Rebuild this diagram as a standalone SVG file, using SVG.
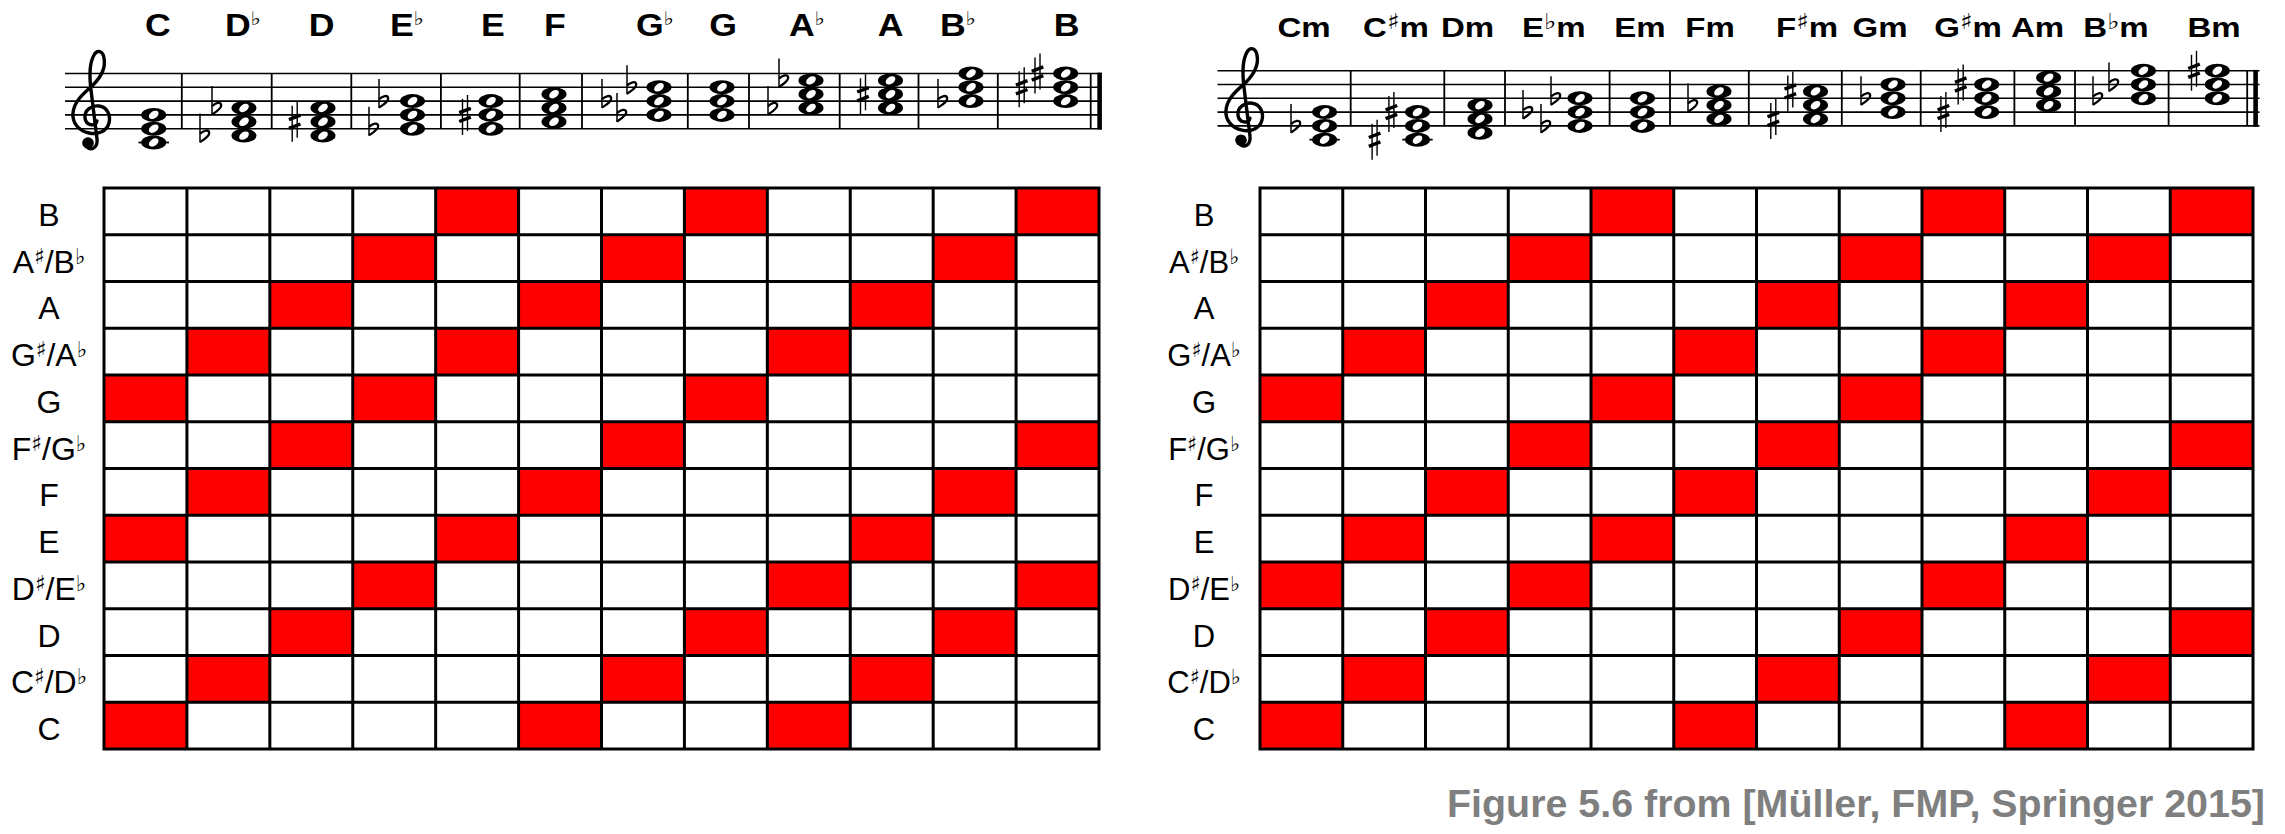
<svg xmlns="http://www.w3.org/2000/svg" width="2285" height="834" viewBox="0 0 2285 834">
<style>
.st{stroke:#000;stroke-width:1.6;fill:none}
.bl{stroke:#000;stroke-width:1.8;fill:none}
.lg{stroke:#000;stroke-width:1.8}
.cl{font-family:'Liberation Sans','DejaVu Sans',sans-serif;font-weight:bold;fill:#000;text-anchor:middle}
.rl{font-family:'Liberation Sans','DejaVu Sans',sans-serif;fill:#000;text-anchor:middle}
.acc{font-family:'DejaVu Sans',sans-serif;font-weight:normal}
.red{fill:#ff0000}
.gl{stroke:#000;stroke-width:3;fill:none;stroke-linecap:square}
.ft{font-family:'Liberation Sans',Arial,sans-serif;font-weight:bold;fill:#7f7f7f;font-size:39.4px}
</style>
<defs>
<g id="wn"><ellipse rx="12.5" ry="7" fill="#000"/><ellipse rx="5.4" ry="3.5" fill="#fff" transform="rotate(-35)"/></g>
<g id="fl" stroke="#000" fill="none"><path d="M0,-22 V7" stroke-width="1.5"/><path d="M0,6.5 C4,4 9.8,0.5 9.2,-3 C8.6,-6.4 3.6,-5.4 0,-1.8" stroke-width="2.3"/></g>
<g id="sh" stroke="#000" fill="none"><path d="M-2.5,-16 V20 M2.5,-20 V16" stroke-width="1.4"/><path d="M-5.8,-2.2 L5.8,-6.6 M-5.8,6.6 L5.8,2.2" stroke-width="3.4"/></g>
<g id="clef"><path d="M97,121 C96,127 86,126 85,118 C84,110 92,105 99,106 C107,107 111,115 109,123 C107,131 98,135 89,133 C79,131 72,123 73,113 C74,101 84,93 93,85 C101,77 106,68 104,58 C103,51 97,49 94,55 C90,62 89,74 91,90 L97,139 C98,148 91,151 87,147" fill="none" stroke="#000" stroke-width="3.4" stroke-linecap="round"/><circle cx="88" cy="143" r="5.8" fill="#000"/></g>
</defs>
<rect width="2285" height="834" fill="#fff"/>

<g id="staff-major">
<path class="st" d="M65,73.5 H1101.7 M65,87.3 H1101.7 M65,101.1 H1101.7 M65,114.9 H1101.7 M65,128.7 H1101.7"/>
<path class="bl" d="M181.8,73.5 V128.7 M271.7,73.5 V128.7 M351.3,73.5 V128.7 M440.9,73.5 V128.7 M519.7,73.5 V128.7 M582,73.5 V128.7 M687.8,73.5 V128.7 M749,73.5 V128.7 M839.7,73.5 V128.7 M918.5,73.5 V128.7 M997.8,73.5 V128.7 M1090.7,73.5 V128.7"/>
<rect x="1097.3" y="72.7" width="4.6" height="56.8" fill="#000"/>
<use href="#clef"/>
<path class="lg" d="M138.5,142.5 H169"/>
<use href="#wn" x="153.7" y="142.5"/><use href="#wn" x="153.7" y="128.7"/><use href="#wn" x="153.7" y="114.9"/>
<use href="#wn" x="244" y="135.6"/><use href="#wn" x="244" y="121.8"/><use href="#wn" x="244" y="108"/>
<use href="#wn" x="323" y="135.6"/><use href="#wn" x="323" y="121.8"/><use href="#wn" x="323" y="108"/>
<use href="#wn" x="412.5" y="128.7"/><use href="#wn" x="412.5" y="114.9"/><use href="#wn" x="412.5" y="101.1"/>
<use href="#wn" x="491" y="128.7"/><use href="#wn" x="491" y="114.9"/><use href="#wn" x="491" y="101.1"/>
<use href="#wn" x="554" y="121.8"/><use href="#wn" x="554" y="108"/><use href="#wn" x="554" y="94.2"/>
<use href="#wn" x="659" y="114.9"/><use href="#wn" x="659" y="101.1"/><use href="#wn" x="659" y="87.3"/>
<use href="#wn" x="722" y="114.9"/><use href="#wn" x="722" y="101.1"/><use href="#wn" x="722" y="87.3"/>
<use href="#wn" x="811" y="108"/><use href="#wn" x="811" y="94.2"/><use href="#wn" x="811" y="80.4"/>
<use href="#wn" x="890.5" y="108"/><use href="#wn" x="890.5" y="94.2"/><use href="#wn" x="890.5" y="80.4"/>
<use href="#wn" x="971" y="101.1"/><use href="#wn" x="971" y="87.3"/><use href="#wn" x="971" y="73.5"/>
<use href="#wn" x="1065.7" y="101.1"/><use href="#wn" x="1065.7" y="87.3"/><use href="#wn" x="1065.7" y="73.5"/>
<use href="#fl" x="200" y="135.6"/><use href="#fl" x="212" y="108"/>
<use href="#sh" x="294.7" y="121.8"/>
<use href="#fl" x="369" y="128.7"/><use href="#fl" x="379" y="101.1"/>
<use href="#sh" x="465" y="114.9"/>
<use href="#fl" x="602" y="101.1"/><use href="#fl" x="617" y="114.9"/><use href="#fl" x="627" y="87.3"/>
<use href="#fl" x="768" y="108"/><use href="#fl" x="779" y="80.4"/>
<use href="#sh" x="863" y="94.2"/>
<use href="#fl" x="938" y="101.1"/>
<use href="#sh" x="1021.7" y="87.3"/><use href="#sh" x="1037.5" y="73.5"/>
</g>

<g id="labels-major" font-size="31">
<text class="cl" transform="translate(157.9,36) scale(1.15,1)">C</text>
<text class="cl" transform="translate(243,36) scale(1.15,1)">D<tspan class="acc" font-size="19" dy="-11">♭</tspan></text>
<text class="cl" transform="translate(321.5,36) scale(1.15,1)">D</text>
<text class="cl" transform="translate(407,36) scale(1.15,1)">E<tspan class="acc" font-size="19" dy="-11">♭</tspan></text>
<text class="cl" transform="translate(493,36) scale(1.15,1)">E</text>
<text class="cl" transform="translate(555,36) scale(1.15,1)">F</text>
<text class="cl" transform="translate(655,36) scale(1.15,1)">G<tspan class="acc" font-size="19" dy="-11">♭</tspan></text>
<text class="cl" transform="translate(723,36) scale(1.15,1)">G</text>
<text class="cl" transform="translate(807,36) scale(1.15,1)">A<tspan class="acc" font-size="19" dy="-11">♭</tspan></text>
<text class="cl" transform="translate(890.6,36) scale(1.15,1)">A</text>
<text class="cl" transform="translate(958,36) scale(1.15,1)">B<tspan class="acc" font-size="19" dy="-11">♭</tspan></text>
<text class="cl" transform="translate(1066.6,36) scale(1.15,1)">B</text>
</g>

<g id="staff-minor">
<path class="st" d="M1217.5,70.7 H2259.5 M1217.5,84.5 H2259.5 M1217.5,98.3 H2259.5 M1217.5,112.1 H2259.5 M1217.5,125.9 H2259.5"/>
<path class="bl" d="M1350.7,70.7 V125.9 M1444.3,70.7 V125.9 M1505,70.7 V125.9 M1609.6,70.7 V125.9 M1670,70.7 V125.9 M1748.8,70.7 V125.9 M1841.8,70.7 V125.9 M1920.7,70.7 V125.9 M2014.4,70.7 V125.9 M2075,70.7 V125.9 M2168.6,70.7 V125.9 M2247.2,70.7 V125.9"/>
<rect x="2253.3" y="69.9" width="4.6" height="56.8" fill="#000"/>
<use href="#clef" transform="translate(1153,-2.8)"/>
<path class="lg" d="M1309.4,139.7 H1339.8 M1402.3,139.7 H1432.7"/>
<use href="#wn" x="1324.6" y="139.7"/><use href="#wn" x="1324.6" y="125.9"/><use href="#wn" x="1324.6" y="112.1"/>
<use href="#wn" x="1417.5" y="139.7"/><use href="#wn" x="1417.5" y="125.9"/><use href="#wn" x="1417.5" y="112.1"/>
<use href="#wn" x="1480" y="132.8"/><use href="#wn" x="1480" y="119"/><use href="#wn" x="1480" y="105.2"/>
<use href="#wn" x="1580" y="125.9"/><use href="#wn" x="1580" y="112.1"/><use href="#wn" x="1580" y="98.3"/>
<use href="#wn" x="1642.5" y="125.9"/><use href="#wn" x="1642.5" y="112.1"/><use href="#wn" x="1642.5" y="98.3"/>
<use href="#wn" x="1719" y="119"/><use href="#wn" x="1719" y="105.2"/><use href="#wn" x="1719" y="91.4"/>
<use href="#wn" x="1815.5" y="119"/><use href="#wn" x="1815.5" y="105.2"/><use href="#wn" x="1815.5" y="91.4"/>
<use href="#wn" x="1893" y="112.1"/><use href="#wn" x="1893" y="98.3"/><use href="#wn" x="1893" y="84.5"/>
<use href="#wn" x="1986.7" y="112.1"/><use href="#wn" x="1986.7" y="98.3"/><use href="#wn" x="1986.7" y="84.5"/>
<use href="#wn" x="2048.6" y="105.2"/><use href="#wn" x="2048.6" y="91.4"/><use href="#wn" x="2048.6" y="77.6"/>
<use href="#wn" x="2143.4" y="98.3"/><use href="#wn" x="2143.4" y="84.5"/><use href="#wn" x="2143.4" y="70.7"/>
<use href="#wn" x="2217.3" y="98.3"/><use href="#wn" x="2217.3" y="84.5"/><use href="#wn" x="2217.3" y="70.7"/>
<use href="#fl" x="1291" y="125.9"/>
<use href="#sh" x="1374.6" y="139.7"/><use href="#sh" x="1391.4" y="112.1"/>
<use href="#fl" x="1523" y="112.1"/><use href="#fl" x="1541" y="125.9"/><use href="#fl" x="1551" y="98.3"/>
<use href="#fl" x="1688" y="105.2"/>
<use href="#sh" x="1773.3" y="119"/><use href="#sh" x="1790.3" y="91.4"/>
<use href="#fl" x="1861" y="98.3"/>
<use href="#sh" x="1943.4" y="112.1"/><use href="#sh" x="1960.7" y="84.5"/>
<use href="#fl" x="2093" y="98.3"/><use href="#fl" x="2109" y="84.5"/>
<use href="#sh" x="2194" y="70.7"/>
</g>

<g id="labels-minor" font-size="28">
<text class="cl" transform="translate(1304,36.7) scale(1.18,1)">Cm</text>
<text class="cl" transform="translate(1396,36.7) scale(1.18,1)">C<tspan class="acc" font-size="22" dy="-8">♯</tspan><tspan dy="8">m</tspan></text>
<text class="cl" transform="translate(1467.5,36.7) scale(1.18,1)">Dm</text>
<text class="cl" transform="translate(1553.7,36.7) scale(1.18,1)">E<tspan class="acc" font-size="22" dy="-8">♭</tspan><tspan dy="8">m</tspan></text>
<text class="cl" transform="translate(1640,36.7) scale(1.18,1)">Em</text>
<text class="cl" transform="translate(1710,36.7) scale(1.18,1)">Fm</text>
<text class="cl" transform="translate(1807,36.7) scale(1.18,1)">F<tspan class="acc" font-size="22" dy="-8">♯</tspan><tspan dy="8">m</tspan></text>
<text class="cl" transform="translate(1880,36.7) scale(1.18,1)">Gm</text>
<text class="cl" transform="translate(1968,36.7) scale(1.18,1)">G<tspan class="acc" font-size="22" dy="-8">♯</tspan><tspan dy="8">m</tspan></text>
<text class="cl" transform="translate(2037.5,36.7) scale(1.18,1)">Am</text>
<text class="cl" transform="translate(2116,36.7) scale(1.18,1)">B<tspan class="acc" font-size="22" dy="-8">♭</tspan><tspan dy="8">m</tspan></text>
<text class="cl" transform="translate(2214,36.7) scale(1.18,1)">Bm</text>
</g>

<g id="grid-major">
<rect x="104" y="188" width="995" height="561" fill="#fff"/>
<g transform="translate(104,188) scale(82.917,46.75)" class="red">
<rect x="0" y="11" width="1" height="1"/><rect x="0" y="7" width="1" height="1"/><rect x="0" y="4" width="1" height="1"/>
<rect x="1" y="10" width="1" height="1"/><rect x="1" y="6" width="1" height="1"/><rect x="1" y="3" width="1" height="1"/>
<rect x="2" y="9" width="1" height="1"/><rect x="2" y="5" width="1" height="1"/><rect x="2" y="2" width="1" height="1"/>
<rect x="3" y="8" width="1" height="1"/><rect x="3" y="4" width="1" height="1"/><rect x="3" y="1" width="1" height="1"/>
<rect x="4" y="7" width="1" height="1"/><rect x="4" y="3" width="1" height="1"/><rect x="4" y="0" width="1" height="1"/>
<rect x="5" y="6" width="1" height="1"/><rect x="5" y="2" width="1" height="1"/><rect x="5" y="11" width="1" height="1"/>
<rect x="6" y="5" width="1" height="1"/><rect x="6" y="1" width="1" height="1"/><rect x="6" y="10" width="1" height="1"/>
<rect x="7" y="4" width="1" height="1"/><rect x="7" y="0" width="1" height="1"/><rect x="7" y="9" width="1" height="1"/>
<rect x="8" y="3" width="1" height="1"/><rect x="8" y="11" width="1" height="1"/><rect x="8" y="8" width="1" height="1"/>
<rect x="9" y="2" width="1" height="1"/><rect x="9" y="10" width="1" height="1"/><rect x="9" y="7" width="1" height="1"/>
<rect x="10" y="1" width="1" height="1"/><rect x="10" y="9" width="1" height="1"/><rect x="10" y="6" width="1" height="1"/>
<rect x="11" y="0" width="1" height="1"/><rect x="11" y="8" width="1" height="1"/><rect x="11" y="5" width="1" height="1"/>
<path class="gl" vector-effect="non-scaling-stroke" d="M0,0H12M0,1H12M0,2H12M0,3H12M0,4H12M0,5H12M0,6H12M0,7H12M0,8H12M0,9H12M0,10H12M0,11H12M0,12H12M0,0V12M1,0V12M2,0V12M3,0V12M4,0V12M5,0V12M6,0V12M7,0V12M8,0V12M9,0V12M10,0V12M11,0V12M12,0V12"/>
</g>
</g>

<g id="rows-major" font-size="32">
<text class="rl" x="49" y="226">B</text>
<text class="rl" x="49" y="272.6">A<tspan class="acc" font-size="22" dy="-9">♯</tspan><tspan dy="9">/B</tspan><tspan class="acc" font-size="22" dy="-9">♭</tspan></text>
<text class="rl" x="49" y="319.4">A</text>
<text class="rl" x="49" y="366.1">G<tspan class="acc" font-size="22" dy="-9">♯</tspan><tspan dy="9">/A</tspan><tspan class="acc" font-size="22" dy="-9">♭</tspan></text>
<text class="rl" x="49" y="412.9">G</text>
<text class="rl" x="49" y="459.6">F<tspan class="acc" font-size="22" dy="-9">♯</tspan><tspan dy="9">/G</tspan><tspan class="acc" font-size="22" dy="-9">♭</tspan></text>
<text class="rl" x="49" y="506.4">F</text>
<text class="rl" x="49" y="553.1">E</text>
<text class="rl" x="49" y="599.9">D<tspan class="acc" font-size="22" dy="-9">♯</tspan><tspan dy="9">/E</tspan><tspan class="acc" font-size="22" dy="-9">♭</tspan></text>
<text class="rl" x="49" y="646.6">D</text>
<text class="rl" x="49" y="693.4">C<tspan class="acc" font-size="22" dy="-9">♯</tspan><tspan dy="9">/D</tspan><tspan class="acc" font-size="22" dy="-9">♭</tspan></text>
<text class="rl" x="49" y="740.1">C</text>
</g>

<g id="grid-minor">
<rect x="1260" y="188" width="993" height="561" fill="#fff"/>
<g transform="translate(1260,188) scale(82.75,46.75)" class="red">
<rect x="0" y="11" width="1" height="1"/><rect x="0" y="8" width="1" height="1"/><rect x="0" y="4" width="1" height="1"/>
<rect x="1" y="10" width="1" height="1"/><rect x="1" y="7" width="1" height="1"/><rect x="1" y="3" width="1" height="1"/>
<rect x="2" y="9" width="1" height="1"/><rect x="2" y="6" width="1" height="1"/><rect x="2" y="2" width="1" height="1"/>
<rect x="3" y="8" width="1" height="1"/><rect x="3" y="5" width="1" height="1"/><rect x="3" y="1" width="1" height="1"/>
<rect x="4" y="7" width="1" height="1"/><rect x="4" y="4" width="1" height="1"/><rect x="4" y="0" width="1" height="1"/>
<rect x="5" y="6" width="1" height="1"/><rect x="5" y="3" width="1" height="1"/><rect x="5" y="11" width="1" height="1"/>
<rect x="6" y="5" width="1" height="1"/><rect x="6" y="2" width="1" height="1"/><rect x="6" y="10" width="1" height="1"/>
<rect x="7" y="4" width="1" height="1"/><rect x="7" y="1" width="1" height="1"/><rect x="7" y="9" width="1" height="1"/>
<rect x="8" y="3" width="1" height="1"/><rect x="8" y="0" width="1" height="1"/><rect x="8" y="8" width="1" height="1"/>
<rect x="9" y="2" width="1" height="1"/><rect x="9" y="11" width="1" height="1"/><rect x="9" y="7" width="1" height="1"/>
<rect x="10" y="1" width="1" height="1"/><rect x="10" y="10" width="1" height="1"/><rect x="10" y="6" width="1" height="1"/>
<rect x="11" y="0" width="1" height="1"/><rect x="11" y="9" width="1" height="1"/><rect x="11" y="5" width="1" height="1"/>
<path class="gl" vector-effect="non-scaling-stroke" d="M0,0H12M0,1H12M0,2H12M0,3H12M0,4H12M0,5H12M0,6H12M0,7H12M0,8H12M0,9H12M0,10H12M0,11H12M0,12H12M0,0V12M1,0V12M2,0V12M3,0V12M4,0V12M5,0V12M6,0V12M7,0V12M8,0V12M9,0V12M10,0V12M11,0V12M12,0V12"/>
</g>
</g>

<g id="rows-minor" font-size="31">
<text class="rl" x="1204" y="226">B</text>
<text class="rl" x="1204" y="272.6">A<tspan class="acc" font-size="21" dy="-9">♯</tspan><tspan dy="9">/B</tspan><tspan class="acc" font-size="21" dy="-9">♭</tspan></text>
<text class="rl" x="1204" y="319.4">A</text>
<text class="rl" x="1204" y="366.1">G<tspan class="acc" font-size="21" dy="-9">♯</tspan><tspan dy="9">/A</tspan><tspan class="acc" font-size="21" dy="-9">♭</tspan></text>
<text class="rl" x="1204" y="412.9">G</text>
<text class="rl" x="1204" y="459.6">F<tspan class="acc" font-size="21" dy="-9">♯</tspan><tspan dy="9">/G</tspan><tspan class="acc" font-size="21" dy="-9">♭</tspan></text>
<text class="rl" x="1204" y="506.4">F</text>
<text class="rl" x="1204" y="553.1">E</text>
<text class="rl" x="1204" y="599.9">D<tspan class="acc" font-size="21" dy="-9">♯</tspan><tspan dy="9">/E</tspan><tspan class="acc" font-size="21" dy="-9">♭</tspan></text>
<text class="rl" x="1204" y="646.6">D</text>
<text class="rl" x="1204" y="693.4">C<tspan class="acc" font-size="21" dy="-9">♯</tspan><tspan dy="9">/D</tspan><tspan class="acc" font-size="21" dy="-9">♭</tspan></text>
<text class="rl" x="1204" y="740.1">C</text>
</g>

<g id="caption">
<text class="ft" x="1447" y="816.7">Figure 5.6 from [Müller, FMP, Springer 2015]</text>
</g>
</svg>
